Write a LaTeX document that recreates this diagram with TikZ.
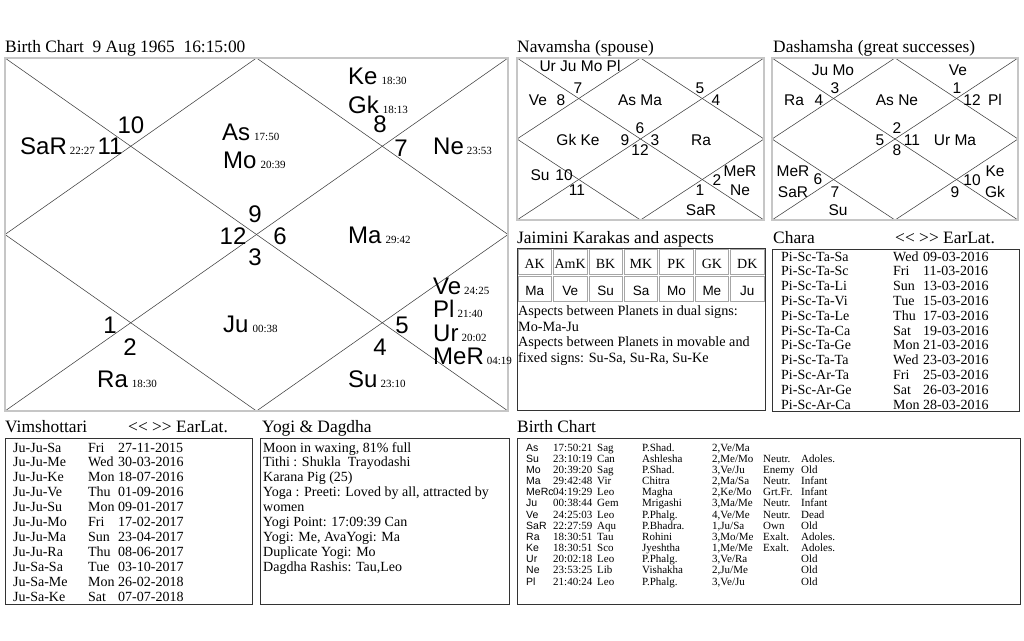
\documentclass[tikz,border=0pt]{standalone}
\usepackage{fontspec}
\setmainfont{Liberation Serif}
\newfontfamily\arialf{Liberation Sans}
\newcommand\dg[1]{{\rmfamily\fontsize{11}{11}\selectfont #1}}
\newcommand\earl{<\kern0pt< \kern0pt>\kern0pt> EarLat.}
\newcommand\vrow[4]{\node[txt] (v#1) at (13,{452+(#1-1)*14.9}) {\makebox[75pt][l]{#2}\makebox[30pt][l]{#3}#4};}
\newcommand\crow[4]{\node[txt] (c#1) at (781,{261+(#1-1)*14.8}) {\makebox[112pt][l]{#2}\makebox[30pt][l]{#3}#4};}
\newcommand\brow[8]{\node[bt] (b#1) at (526,{451+(#1-1)*11.17}) {\makebox[27pt][l]{\arialf\fontsize{10.5}{10.5}\selectfont #2}\makebox[44pt][l]{#3}\makebox[45pt][l]{#4}\makebox[70pt][l]{#5}\makebox[51pt][l]{#6}\makebox[38pt][l]{#7}#8};}
\begin{document}
\begin{tikzpicture}[x=1pt,y=-1pt,
 frame/.style={draw=black!65, line width=0.5pt, double=gray!45, double distance=1.5pt},
 diag/.style={draw=black!75, line width=0.55pt},
 box/.style={draw=black!80, line width=0.8pt},
 cell/.style={draw=gray!70, line width=0.5pt},
 ttl/.style={inner sep=0, anchor=base west, font=\fontsize{17.4}{17.4}\selectfont},
 pl/.style={inner sep=0, anchor=base west, font=\arialf\fontsize{24}{24}\selectfont},
 num/.style={inner sep=0, anchor=base, font=\arialf\fontsize{24}{24}\selectfont},
 dv/.style={inner sep=0, anchor=base, font=\arialf\fontsize{15.5}{15.5}\selectfont},
 txt/.style={inner sep=0, anchor=base west, font=\fontsize{14}{14}\selectfont},
 jt/.style={inner sep=0, anchor=base west, font=\fontsize{14.2}{14.2}\selectfont},
 jh/.style={inner sep=0, anchor=base, font=\fontsize{14}{14}\selectfont},
 jv/.style={inner sep=0, anchor=base, font=\arialf\fontsize{13.5}{13.5}\selectfont},
 bt/.style={inner sep=0, anchor=base west, font=\fontsize{11}{11}\selectfont}]
\useasboundingbox (0,0) rectangle (1024,640);
\fill[white] (0,0) rectangle (1024,640);

% ---------- titles ----------
\node[ttl] (t1) at (5,52) {Birth Chart\ \ 9 Aug 1965\ \ 16:15:00};
\node[ttl] (t2) at (517,52) {Navamsha (spouse)};
\node[ttl] (t3) at (773,52) {Dashamsha (great successes)};
\node[ttl] (t4) at (517,243) {Jaimini Karakas and aspects};
\node[ttl] (t5) at (773,243) {Chara};
\node[ttl] (t6) at (895,243) {\earl};
\node[ttl] (t7) at (5,432) {Vimshottari};
\node[ttl] (t8) at (128,432) {\earl};
\node[ttl] (t9) at (262,432) {Yogi \& Dagdha};
\node[ttl] (t10) at (517,432) {Birth Chart};

% ---------- main chart ----------
\coordinate (m-nw) at (5,58); \coordinate (m-ne) at (508,58);
\coordinate (m-se) at (508,411); \coordinate (m-sw) at (5,411);
\coordinate (m-n) at (256.5,58); \coordinate (m-e) at (508,234.5);
\coordinate (m-s) at (256.5,411); \coordinate (m-w) at (5,234.5);
\draw[diag] (m-nw) -- (m-se);
\draw[diag] (m-ne) -- (m-sw);
\draw[diag] (m-n) -- (m-e) -- (m-s) -- (m-w) -- cycle;
\draw[frame] (m-nw) rectangle (m-se);

\node[num] (h10) at (131,133) {10};
\node[num] (h11) at (110,154) {11};
\node[num] (h8) at (380,132) {8};
\node[num] (h7) at (401,156) {7};
\node[num] (h9) at (255,222) {9};
\node[num] (h12) at (233,244) {12};
\node[num] (h6) at (280,244) {6};
\node[num] (h3) at (255,265) {3};
\node[num] (h1) at (110,333) {1};
\node[num] (h2) at (130,355) {2};
\node[num] (h5) at (402,333) {5};
\node[num] (h4) at (380,355) {4};

\node[pl] (pSaR) at (20,154) {SaR\hspace{3pt}\dg{22:27}};
\node[pl] (pAs) at (222,140) {As\hspace{4pt}\dg{17:50}};
\node[pl] (pMo) at (223,168) {Mo\hspace{4pt}\dg{20:39}};
\node[pl] (pKe) at (348,84) {Ke\hspace{4pt}\dg{18:30}};
\node[pl] (pGk) at (348,113) {Gk\hspace{4pt}\dg{18:13}};
\node[pl] (pNe) at (433,154) {Ne\hspace{3pt}\dg{23:53}};
\node[pl] (pMa) at (348,243) {Ma\hspace{4pt}\dg{29:42}};
\node[pl] (pVe) at (433,294) {Ve\hspace{3pt}\dg{24:25}};
\node[pl] (pPl) at (433,317) {Pl\hspace{3pt}\dg{21:40}};
\node[pl] (pUr) at (433,341) {Ur\hspace{3pt}\dg{20:02}};
\node[pl] (pMeR) at (433,364) {MeR\hspace{3pt}\dg{04:19}};
\node[pl] (pJu) at (223,332) {Ju\hspace{4pt}\dg{00:38}};
\node[pl] (pRa) at (97,387) {Ra\hspace{4pt}\dg{18:30}};
\node[pl] (pSu) at (348,387) {Su\hspace{3pt}\dg{23:10}};

% ---------- navamsha ----------
\coordinate (n-nw) at (517,58); \coordinate (n-ne) at (764,58);
\coordinate (n-se) at (764,220); \coordinate (n-sw) at (517,220);
\coordinate (n-n) at (640.5,58); \coordinate (n-e) at (764,139);
\coordinate (n-s) at (640.5,220); \coordinate (n-w) at (517,139);
\draw[diag] (n-nw) -- (n-se);
\draw[diag] (n-ne) -- (n-sw);
\draw[diag] (n-n) -- (n-e) -- (n-s) -- (n-w) -- cycle;
\draw[frame] (n-nw) rectangle (n-se);
\node[dv] (na1) at (580,71) {Ur Ju Mo Pl};
\node[dv] (na2) at (578,93) {7};
\node[dv] (na3) at (538,105) {Ve};
\node[dv] (na4) at (561,105) {8};
\node[dv] (na5) at (640,105) {As Ma};
\node[dv] (na6) at (700,93) {5};
\node[dv] (na7) at (716,105) {4};
\node[dv] (na8) at (578,145) {Gk Ke};
\node[dv] (na9) at (625,145) {9};
\node[dv] (na10) at (640,133) {6};
\node[dv] (na11) at (655,145) {3};
\node[dv] (na12) at (640,155) {12};
\node[dv] (na13) at (701,145) {Ra};
\node[dv] (na14) at (540,180) {Su};
\node[dv] (na15) at (564,180) {10};
\node[dv] (na16) at (577,195) {11};
\node[dv] (na17) at (700,195) {1};
\node[dv] (na18) at (717,185) {2};
\node[dv] (na19) at (740,176) {MeR};
\node[dv] (na20) at (740,195) {Ne};
\node[dv] (na21) at (701,215) {SaR};

% ---------- dashamsha ----------
\coordinate (d-nw) at (772,58); \coordinate (d-ne) at (1018,58);
\coordinate (d-se) at (1018,220); \coordinate (d-sw) at (772,220);
\coordinate (d-n) at (895,58); \coordinate (d-e) at (1018,139);
\coordinate (d-s) at (895,220); \coordinate (d-w) at (772,139);
\draw[diag] (d-nw) -- (d-se);
\draw[diag] (d-ne) -- (d-sw);
\draw[diag] (d-n) -- (d-e) -- (d-s) -- (d-w) -- cycle;
\draw[frame] (d-nw) rectangle (d-se);
\node[dv] (da1) at (833,75) {Ju Mo};
\node[dv] (da2) at (958,75) {Ve};
\node[dv] (da3) at (835,93) {3};
\node[dv] (da4) at (794,105) {Ra};
\node[dv] (da5) at (819,105) {4};
\node[dv] (da6) at (897,105) {As Ne};
\node[dv] (da7) at (957,93) {1};
\node[dv] (da8) at (972,105) {12};
\node[dv] (da9) at (995,105) {Pl};
\node[dv] (da10) at (880,145) {5};
\node[dv] (da11) at (897,133) {2};
\node[dv] (da12) at (912,145) {11};
\node[dv] (da13) at (897,155) {8};
\node[dv] (da14) at (955,145) {Ur Ma};
\node[dv] (da15) at (793,176) {MeR};
\node[dv] (da16) at (818,184) {6};
\node[dv] (da17) at (793,197) {SaR};
\node[dv] (da18) at (835,197) {7};
\node[dv] (da19) at (955,197) {9};
\node[dv] (da20) at (972,185) {10};
\node[dv] (da21) at (995,176) {Ke};
\node[dv] (da22) at (995,197) {Gk};
\node[dv] (da23) at (838,215) {Su};

% ---------- jaimini ----------
\draw[box] (517,248) rectangle (765,410);
\foreach \h/\v [count=\k from 0] in {AK/Ma,AmK/Ve,BK/Su,MK/Sa,PK/Mo,GK/Me,DK/Ju}{
  \draw[cell] ({517+35.43*\k+1},249) rectangle ({517+35.43*(\k+1)-1},274.5);
  \draw[cell] ({517+35.43*\k+1},276.5) rectangle ({517+35.43*(\k+1)-1},301.5);
  \node[jh] (jh\k) at ({517+35.43*(\k+0.5)},268) {\h};
  \node[jv] (jv\k) at ({517+35.43*(\k+0.5)},295) {\v};
}
\node[jt] (ja1) at (518,315) {Aspects between Planets in dual signs:};
\node[jt] (ja2) at (518,331) {Mo-Ma-Ju};
\node[jt] (ja3) at (518,346) {Aspects between Planets in movable and};
\node[jt] (ja4) at (518,362) {fixed signs: Su-Sa, Su-Ra, Su-Ke};

% ---------- chara ----------
\draw[box] (772,249) rectangle (1019,411);
\crow{1}{Pi-Sc-Ta-Sa}{Wed}{09-03-2016}
\crow{2}{Pi-Sc-Ta-Sc}{Fri}{11-03-2016}
\crow{3}{Pi-Sc-Ta-Li}{Sun}{13-03-2016}
\crow{4}{Pi-Sc-Ta-Vi}{Tue}{15-03-2016}
\crow{5}{Pi-Sc-Ta-Le}{Thu}{17-03-2016}
\crow{6}{Pi-Sc-Ta-Ca}{Sat}{19-03-2016}
\crow{7}{Pi-Sc-Ta-Ge}{Mon}{21-03-2016}
\crow{8}{Pi-Sc-Ta-Ta}{Wed}{23-03-2016}
\crow{9}{Pi-Sc-Ar-Ta}{Fri}{25-03-2016}
\crow{10}{Pi-Sc-Ar-Ge}{Sat}{26-03-2016}
\crow{11}{Pi-Sc-Ar-Ca}{Mon}{28-03-2016}

% ---------- vimshottari ----------
\draw[box] (5,438) rectangle (252,604);
\vrow{1}{Ju-Ju-Sa}{Fri}{27-11-2015}
\vrow{2}{Ju-Ju-Me}{Wed}{30-03-2016}
\vrow{3}{Ju-Ju-Ke}{Mon}{18-07-2016}
\vrow{4}{Ju-Ju-Ve}{Thu}{01-09-2016}
\vrow{5}{Ju-Ju-Su}{Mon}{09-01-2017}
\vrow{6}{Ju-Ju-Mo}{Fri}{17-02-2017}
\vrow{7}{Ju-Ju-Ma}{Sun}{23-04-2017}
\vrow{8}{Ju-Ju-Ra}{Thu}{08-06-2017}
\vrow{9}{Ju-Sa-Sa}{Tue}{03-10-2017}
\vrow{10}{Ju-Sa-Me}{Mon}{26-02-2018}
\vrow{11}{Ju-Sa-Ke}{Sat}{07-07-2018}

% ---------- yogi ----------
\draw[box] (260,438) rectangle (509,604);
\node[txt] (y1) at (263,452) {Moon in waxing, 81\% full};
\node[txt] (y2) at (263,466.9) {Tithi : Shukla\hspace{7pt}Trayodashi};
\node[txt] (y3) at (263,481.8) {Karana Pig (25)};
\node[txt] (y4) at (263,496.7) {Yoga : Preeti: Loved by all, attracted by};
\node[txt] (y5) at (263,511.6) {women};
\node[txt] (y6) at (263,526.5) {Yogi Point: 17:09:39 Can};
\node[txt] (y7) at (263,541.4) {Yogi: Me, AvaYogi: Ma};
\node[txt] (y8) at (263,556.3) {Duplicate Yogi: Mo};
\node[txt] (y9) at (263,571.2) {Dagdha Rashis: Tau,Leo};

% ---------- birth chart table ----------
\draw[box] (517,438) rectangle (1020,604);
\brow{1}{As}{17:50:21}{Sag}{P.Shad.}{2,Ve/Ma}{}{}
\brow{2}{Su}{23:10:19}{Can}{Ashlesha}{2,Me/Mo}{Neutr.}{Adoles.}
\brow{3}{Mo}{20:39:20}{Sag}{P.Shad.}{3,Ve/Ju}{Enemy}{Old}
\brow{4}{Ma}{29:42:48}{Vir}{Chitra}{2,Ma/Sa}{Neutr.}{Infant}
\brow{5}{MeRc}{04:19:29}{Leo}{Magha}{2,Ke/Mo}{Grt.Fr.}{Infant}
\brow{6}{Ju}{00:38:44}{Gem}{Mrigashi}{3,Ma/Me}{Neutr.}{Infant}
\brow{7}{Ve}{24:25:03}{Leo}{P.Phalg.}{4,Ve/Me}{Neutr.}{Dead}
\brow{8}{SaR}{22:27:59}{Aqu}{P.Bhadra.}{1,Ju/Sa}{Own}{Old}
\brow{9}{Ra}{18:30:51}{Tau}{Rohini}{3,Mo/Me}{Exalt.}{Adoles.}
\brow{10}{Ke}{18:30:51}{Sco}{Jyeshtha}{1,Me/Me}{Exalt.}{Adoles.}
\brow{11}{Ur}{20:02:18}{Leo}{P.Phalg.}{3,Ve/Ra}{}{Old}
\brow{12}{Ne}{23:53:25}{Lib}{Vishakha}{2,Ju/Me}{}{Old}
\brow{13}{Pl}{21:40:24}{Leo}{P.Phalg.}{3,Ve/Ju}{}{Old}
\end{tikzpicture}
\end{document}
